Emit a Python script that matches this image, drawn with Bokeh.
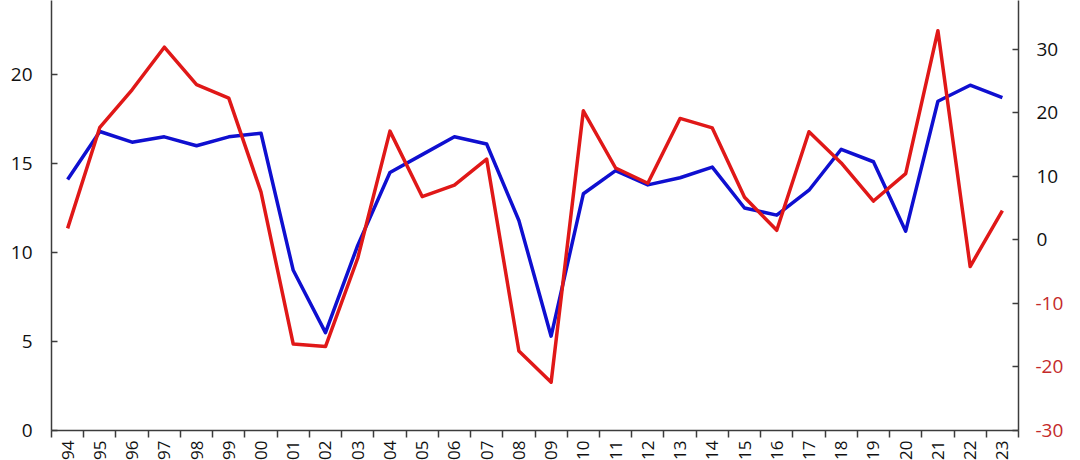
import math
from bokeh.plotting import figure
from bokeh.models import Range1d, LinearAxis, FixedTicker
from bokeh.embed import file_html
from bokeh.resources import INLINE

# ---- data ----
years = [1994, 1995, 1996, 1997, 1998, 1999, 2000, 2001, 2002, 2003,
         2004, 2005, 2006, 2007, 2008, 2009, 2010, 2011, 2012, 2013,
         2014, 2015, 2016, 2017, 2018, 2019, 2020, 2021, 2022, 2023]
year_labels = ["94", "95", "96", "97", "98", "99", "00", "01", "02", "03",
               "04", "05", "06", "07", "08", "09", "10", "11", "12", "13",
               "14", "15", "16", "17", "18", "19", "20", "21", "22", "23"]
blue_series = [14.1, 16.8, 16.2, 16.5, 16.0, 16.5, 16.7, 9.0, 5.5, 10.4,
               14.5, 15.5, 16.5, 16.1, 11.8, 5.3, 13.3, 14.6, 13.8, 14.2,
               14.8, 12.5, 12.1, 13.5, 15.8, 15.1, 11.2, 18.5, 19.4, 18.7]
red_series = [1.8, 17.7, 23.6, 30.3, 24.4, 22.3, 7.5, -16.4, -16.8, -2.9,
              17.1, 6.8, 8.6, 12.7, -17.5, -22.4, 20.3, 11.3, 8.9, 19.1,
              17.6, 6.7, 1.5, 17.0, 12.1, 6.1, 10.4, 32.9, -4.2, 4.6]
left_ticks = [0, 5, 10, 15, 20, 25]
right_ticks = [-30, -20, -10, 0, 10, 20, 30]
right_tick_labels = ["-30", "-20", "-10", "0", "10", "20", "30"]

# ---- style ----
FONT = "Open Sans"
FS = "19px"
XFS = "17px"
BLUE = "#0f0fd0"
RED = "#e01818"
NEG_LABEL = "#c42a2a"
AXIS = "#3c3c3c"
TXT = "#111111"

x_bounds = [years[0] - 0.5] + [y + 0.5 for y in years]

p = figure(width=1080, height=460,
           x_range=Range1d(years[0] - 0.5, years[-1] + 0.5),
           y_range=Range1d(0, 24.16),
           output_backend="svg", toolbar_location=None,
           min_border_left=51, min_border_right=62,
           min_border_top=0, min_border_bottom=30)
p.extra_y_ranges = {"right": Range1d(-30, 37.65)}
p.outline_line_color = None
p.xgrid.visible = False
p.ygrid.visible = False
p.background_fill_color = "white"
p.border_fill_color = "white"


def style_labels(ax, color=TXT, size=FS):
    ax.major_label_text_font = FONT
    ax.major_label_text_font_size = size
    ax.major_label_text_color = color


# x axis (line, boundary ticks, year labels)
xa = p.xaxis[0]
xa.ticker = FixedTicker(ticks=years, minor_ticks=x_bounds)
xa.major_label_overrides = {y: l for y, l in zip(years, year_labels)}
xa.major_label_orientation = math.pi / 2
xa.major_tick_out = 0
xa.major_tick_in = 0
xa.minor_tick_out = 7
xa.minor_tick_in = 0
xa.minor_tick_line_color = AXIS
xa.minor_tick_line_width = 1.5
xa.major_label_standoff = 3
xa.axis_line_color = AXIS
xa.axis_line_width = 1.5
style_labels(xa, size=XFS)
# blank axis title with negative standoff keeps the plot frame low on the page
xa.axis_label = " "
xa.axis_label_text_font_size = "1px"
xa.axis_label_standoff = -20

# left axis
ya = p.yaxis[0]
ya.ticker = FixedTicker(ticks=left_ticks, minor_ticks=[])
ya.major_tick_in = 6
ya.major_tick_out = 0
ya.major_label_standoff = 19
ya.axis_line_color = AXIS
ya.axis_line_width = 1.5
ya.major_tick_line_color = AXIS
ya.major_tick_line_width = 1.5
ya.minor_tick_line_color = None
style_labels(ya)

# right axis: line, ticks and the black (non-negative) labels
ra = LinearAxis(y_range_name="right",
                ticker=FixedTicker(ticks=right_ticks, minor_ticks=[]))
ra.major_tick_in = 6
ra.major_tick_out = 0
ra.major_label_standoff = 18
ra.major_label_overrides = {t: ("" if t < 0 else l)
                            for t, l in zip(right_ticks, right_tick_labels)}
ra.axis_line_color = AXIS
ra.axis_line_width = 1.5
ra.major_tick_line_color = AXIS
ra.major_tick_line_width = 1.5
ra.minor_tick_line_color = None
style_labels(ra)
p.add_layout(ra, "right")

# second right axis: only the negative labels, in red, pulled back under the first
rn = LinearAxis(y_range_name="right",
                ticker=FixedTicker(ticks=right_ticks, minor_ticks=[]))
rn.major_label_overrides = {t: (l if t < 0 else "")
                            for t, l in zip(right_ticks, right_tick_labels)}
rn.major_label_standoff = -26
rn.axis_line_color = None
rn.major_tick_line_color = None
rn.minor_tick_line_color = None
rn.major_tick_in = 0
rn.major_tick_out = 0
style_labels(rn, NEG_LABEL)
p.add_layout(rn, "right")

p.line(years, blue_series, line_color=BLUE, line_width=3.5, line_join="round")
p.line(years, red_series, line_color=RED, line_width=3.5, line_join="round",
       y_range_name="right")

open("out.html", "w").write(file_html(p, INLINE))
